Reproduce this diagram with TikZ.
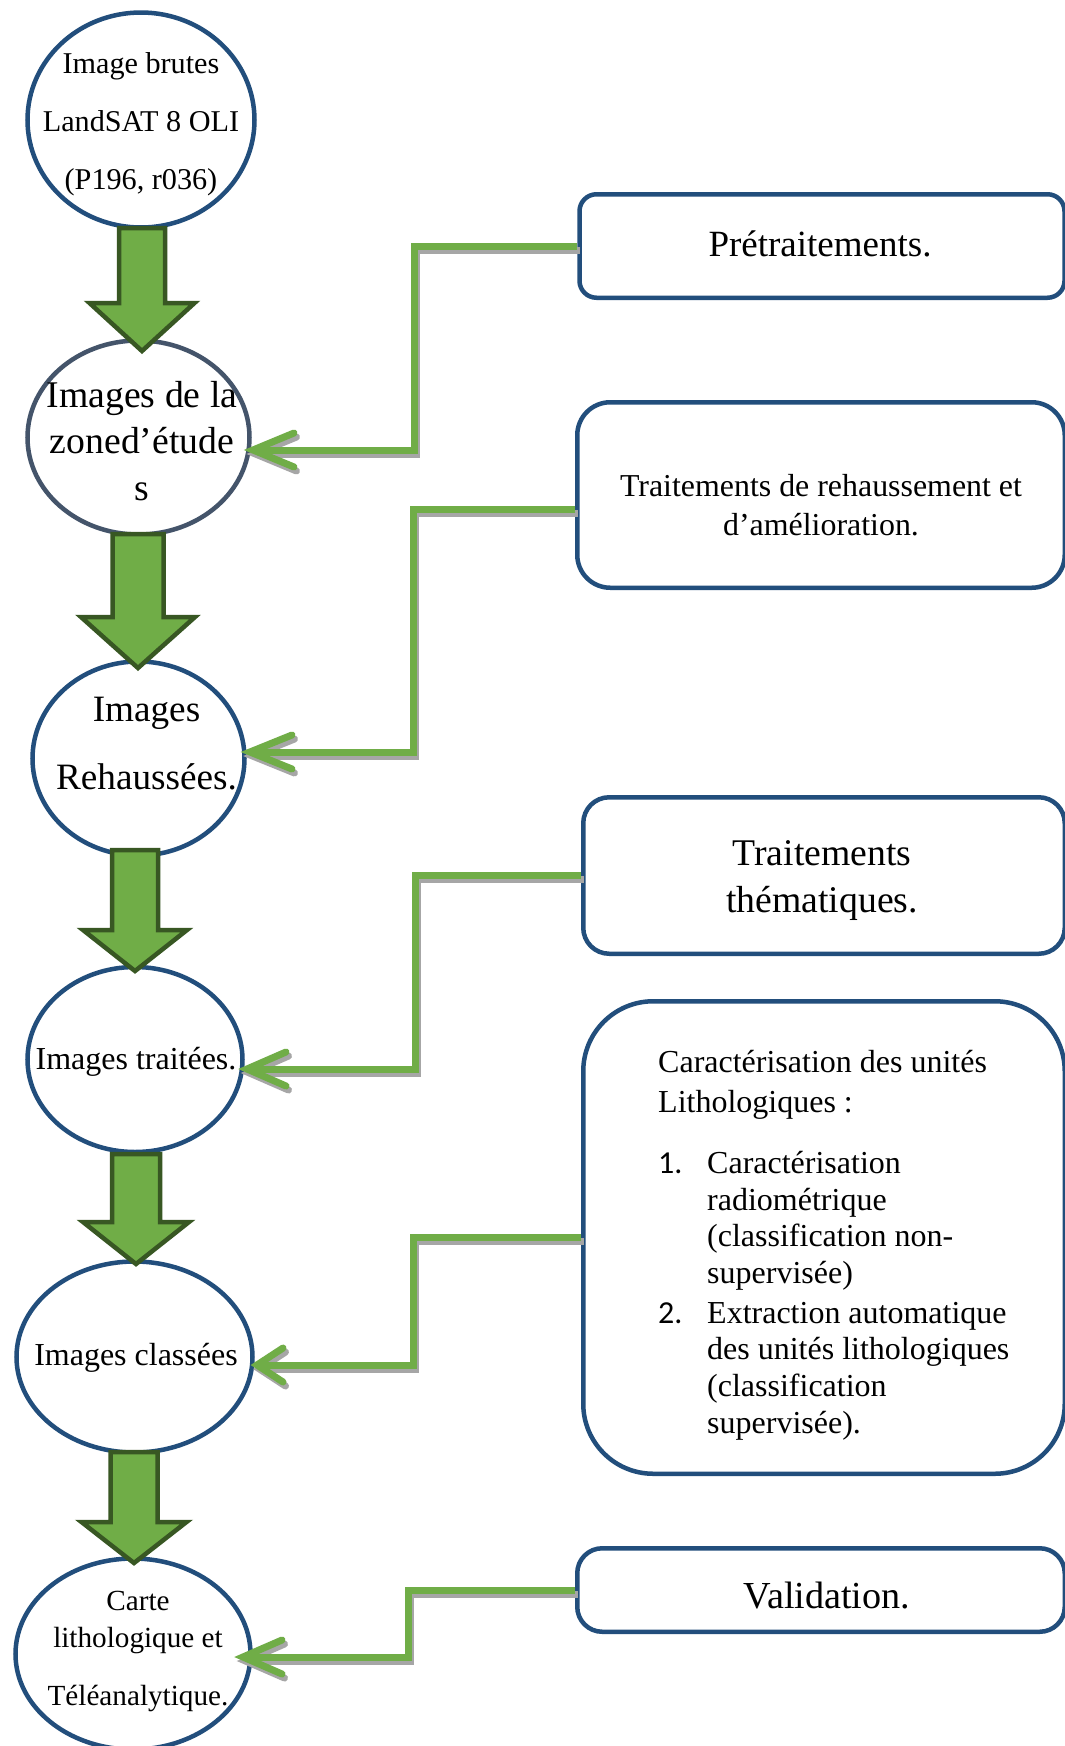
\documentclass[tikz,border=0pt]{standalone}
\usepackage{fontspec}
\setmainfont{Liberation Serif}
\newfontfamily\numfont{Carlito}
\usetikzlibrary{shapes.geometric,calc}
\definecolor{eblue}{RGB}{34,78,124}
\definecolor{egray}{RGB}{68,84,106}
\definecolor{gfill}{RGB}{112,173,71}
\definecolor{gdark}{RGB}{56,87,35}
\definecolor{shgray}{RGB}{166,166,166}
\newcommand\fsz[2]{\fontsize{#1pt}{#2pt}\selectfont}
\newcommand\linkpath[5]{%
  \draw[shadowline] ($(#1)+(2.5,4)$) -| ($(#2)+(2.5,4)$) -- ($(#3)+(2.5,4)$);
  \draw[shadowline,line cap=round] ($(#3)+(#4+2.5,-#5+4)$) -- ($(#3)+(2.5,4)$) -- ($(#3)+(#4+2.5,#5+4)$);
  \draw[linkline] (#1) -| (#2) -- (#3);
  \draw[linkline,line cap=round] ($(#3)+(#4,-#5)$) -- (#3) -- ($(#3)+(#4,#5)$);
}
\newcommand\blockarrow[6]{% cx, top, headstart, tip, shaft hw, head hw
  \draw[barrow] (#1-#5,#2) -- (#1+#5,#2) -- (#1+#5,#3) -- (#1+#6,#3) -- (#1,#4)
     -- (#1-#6,#3) -- (#1-#5,#3) -- cycle;
}
\begin{document}
\begin{tikzpicture}[x=1pt,y=-1pt,
  ell/.style={ellipse, draw=eblue, line width=4.5pt, fill=white, inner sep=0pt},
  ellbox/.style={rectangle, draw=eblue, line width=4.5pt, fill=white, inner sep=0pt},
  txt/.style={inner sep=0pt, align=center, text=black},
  shadowline/.style={draw=shgray, line width=7pt, line join=miter},
  linkline/.style={draw=gfill, line width=7pt, line join=miter},
  barrow/.style={draw=gdark, fill=gfill, line width=4.5pt, line join=miter}]
\useasboundingbox (0,0) rectangle (1065,1746);
\fill[white] (0,0) rectangle (1065,1746);

% ellipses
\node[ell, minimum width=227pt, minimum height=215pt] (e1) at (141,120) {};
\node[ell, draw=egray, minimum width=222pt, minimum height=194pt] (e2) at (138.5,437.5) {};
\node[ell, minimum width=212pt, minimum height=194pt] (e3) at (138.5,758.5) {};
\node[ell, minimum width=215pt, minimum height=185pt] (e4) at (135,1059.5) {};
\node[ell, minimum width=236pt, minimum height=191pt] (e5) at (134.5,1357) {};
\node[ell, minimum width=235pt, minimum height=191pt] (e6) at (133,1654) {};

% ellipse texts
\node[txt, font=\fsz{30.2}{58}] (te1) at (141,124.5) {Image brutes\\LandSAT 8 OLI\\(P196, r036)};
\node[txt, font=\fsz{37.7}{46.5}] (te2) at (142,441) {Images de la\\zoned’étude\\s};
\node[txt, font=\fsz{37.2}{68}] (te3) at (146.5,744) {Images\\Rehaussées.};
\node[txt, font=\fsz{32}{38}] (te4) at (136,1062) {Images traitées.};
\node[txt, font=\fsz{32}{38}] (te5) at (136,1358) {Images classées};
\node[txt, font=\fsz{29.2}{37}] (te6) at (138,1651.5) {Carte\\lithologique et\\[21pt]Téléanalytique.};

% boxes
\node[ellbox, rounded corners=17pt, minimum width=485pt, minimum height=103.5pt] (b1) at (822,246) {};
\node[ellbox, rounded corners=33pt, minimum width=487.5pt, minimum height=185.5pt] (b2) at (821,495) {};
\node[ellbox, rounded corners=26pt, minimum width=481.5pt, minimum height=156.5pt] (b3) at (824,875.5) {};
\node[ellbox, rounded corners=70pt, minimum width=481.5pt, minimum height=472.5pt] (b4) at (824,1237.5) {};
\node[ellbox, rounded corners=25pt, minimum width=487.5pt, minimum height=83.5pt] (b5) at (821,1590) {};

% box texts
\node[txt, font=\fsz{37}{44}] (tb1) at (820,244) {Prétraitements.};
\node[txt, font=\fsz{31.9}{39}] (tb2) at (821,505) {Traitements de rehaussement et\\d’amélioration.};
\node[txt, font=\fsz{37.7}{47}] (tb3) at (822,880.5) {Traitements\\thématiques.};
\node[txt, font=\fsz{38.2}{44}] (tb5) at (827,1596) {Validation.};
\node[inner sep=0pt, align=left, anchor=north west, font=\fsz{32}{36.7}] (tb4) at (658,1050.5) {%
Caractérisation des unités\\[3pt]
Lithologiques :\\[24pt]
\makebox[49pt][l]{\numfont 1.}Caractérisation\\
\hspace*{49pt}radiométrique\\
\hspace*{49pt}(classification non-\\
\hspace*{49pt}supervisée)\\[3pt]
\makebox[49pt][l]{\numfont 2.}Extraction automatique\\
\hspace*{49pt}des unités lithologiques\\
\hspace*{49pt}(classification\\
\hspace*{49pt}supervisée).};

% connector coordinates
\coordinate (s2) at ($(b2.west)+(0,14)$);
\coordinate (k1) at (414,450);  \coordinate (t1) at (253,450);
\coordinate (k2) at (413,752);  \coordinate (t2) at (250,752);
\coordinate (k3) at (415,1069); \coordinate (t3) at (247,1069);
\coordinate (k4) at (413,1365); \coordinate (t4) at (257,1365);
\coordinate (k5) at (408,1657); \coordinate (t5) at (243,1657);

\linkpath{b1.west}{k1}{t1}{41}{17}
\linkpath{s2}{k2}{t2}{42}{17}
\linkpath{b3.west}{k3}{t3}{39}{17}
\linkpath{b4.west}{k4}{t4}{26}{17}
\linkpath{b5.west}{k5}{t5}{39}{17}

% block arrows between ellipses
\blockarrow{142}{228}{303}{351}{23}{52.5}
\blockarrow{138}{534}{617}{668}{25.5}{57}
\blockarrow{135}{850}{930}{971}{23}{52}
\blockarrow{136}{1154}{1222}{1264}{24}{53}
\blockarrow{134}{1452}{1522}{1563}{23.5}{52.5}
\end{tikzpicture}
\end{document}
